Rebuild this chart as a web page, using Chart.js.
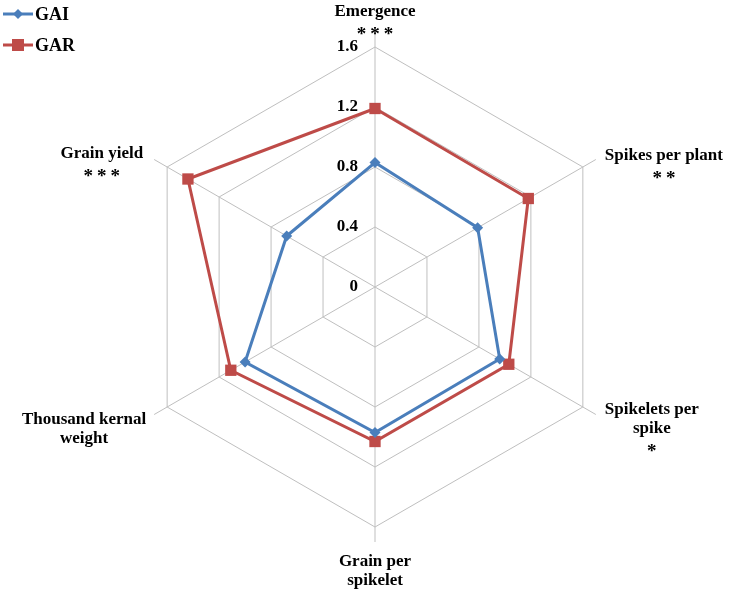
<!DOCTYPE html>
<html>
<head>
<meta charset="utf-8">
<script src="https://cdn.jsdelivr.net/npm/chart.js@4"></script>
<style>
  html, body { margin: 0; padding: 0; background: #fff; }
  #wrap { width: 729px; height: 596px; }
</style>
</head>
<body>
<div id="wrap"><canvas id="chart" width="729" height="596"></canvas></div>
<script>
// axis labels (each entry = lines of the label)
var categories = [
    ["Emergence", "***"],
    ["Spikes per plant", "**"],
    ["Spikelets per", "spike", "*"],
    ["Grain per", "spikelet"],
    ["Thousand kernal", "weight"],
    ["Grain yield", "***"]
];
var gai = [0.83, 0.79, 0.96, 0.97, 1.0, 0.68];
var gar = [1.19, 1.18, 1.03, 1.03, 1.11, 1.44];
var tickValues = [0, 0.4, 0.8, 1.2, 1.6];
var tickLabels = ["0", "0.4", "0.8", "1.2", "1.6"];

var FONT = "bold 17px 'Times New Roman', 'Liberation Serif', serif";
var STAR_FONT = "bold 19px 'Times New Roman', 'Liberation Serif', serif";
var BLUE = "#4a7ebb";
var RED = "#be4b48";

// tick labels, axis labels and legend drawn by hand
var labelsPlugin = {
    id: "labels",
    afterDraw: function(chart){
        let ctx = chart.ctx;
        let scale = chart.scales.r;
        ctx.save();
        ctx.font = FONT;
        ctx.fillStyle = "#000";

        // tick labels, left of the vertical spoke
        ctx.textAlign = "right";
        ctx.textBaseline = "middle";
        for (let i = 0; i < tickValues.length; i++) {
            let d = scale.getDistanceFromCenterForValue(tickValues[i]);
            ctx.fillText(tickLabels[i], scale.xCenter - 17, scale.yCenter - d);
        }

        // axis labels
        let r = scale.getDistanceFromCenterForValue(1.6);
        let lh = 19;
        ctx.textAlign = "center";
        for (let i = 0; i < categories.length; i++) {
            let lines = categories[i];
            let p = scale.getPointPosition(i, r);
            let w = 0;
            lines.forEach(function(t){ w = Math.max(w, ctx.measureText(t).width); });
            let cx, y0;
            if (i === 0) { cx = p.x; y0 = p.y - 35; }
            else if (i === 1) { cx = p.x + 22 + w / 2; y0 = p.y - 11; }
            else if (i === 2) { cx = p.x + 22 + w / 2; y0 = p.y + 3; }
            else if (i === 3) { cx = p.x; y0 = p.y + 35; }
            else if (i === 4) { cx = p.x - 21 - w / 2; y0 = p.y + 13; }
            else { cx = p.x - 24 - w / 2; y0 = p.y - 13; }
            for (let j = 0; j < lines.length; j++) {
                let y = y0 + j * lh;
                if (lines[j].charAt(0) === "*") {
                    ctx.font = STAR_FONT;
                    ctx.letterSpacing = "4px";
                    ctx.fillText(lines[j], cx + 2, y + 4);
                    ctx.letterSpacing = "0px";
                    ctx.font = FONT;
                } else {
                    ctx.fillText(lines[j], cx, y);
                }
            }
        }

        // legend
        ctx.textAlign = "left";
        ctx.lineWidth = 3;
        ctx.strokeStyle = BLUE;
        ctx.beginPath(); ctx.moveTo(3, 14); ctx.lineTo(33, 14); ctx.stroke();
        ctx.fillStyle = BLUE;
        ctx.beginPath();
        ctx.moveTo(18, 9); ctx.lineTo(23, 14); ctx.lineTo(18, 19); ctx.lineTo(13, 14);
        ctx.closePath(); ctx.fill();
        ctx.strokeStyle = RED;
        ctx.beginPath(); ctx.moveTo(3, 45); ctx.lineTo(33, 45); ctx.stroke();
        ctx.fillStyle = RED;
        ctx.fillRect(12, 39, 12, 12);
        ctx.fillStyle = "#000";
        ctx.font = "bold 18px 'Times New Roman', 'Liberation Serif', serif";
        ctx.fillText("GAI", 35, 15);
        ctx.fillText("GAR", 35, 46);
        ctx.restore();
    }
};

var whiteBg = {
    id: "whiteBg",
    beforeDraw: function(chart){
        let ctx = chart.ctx;
        ctx.save();
        ctx.fillStyle = "#fff";
        ctx.fillRect(0, 0, chart.width, chart.height);
        ctx.restore();
    }
};

function config_chart(){
    return {
        type: "radar",
        data: {
            labels: categories.map(function(c){ return c.join(" "); }),
            datasets: [
                {
                    label: "GAI",
                    data: gai,
                    borderColor: BLUE,
                    backgroundColor: BLUE,
                    borderWidth: 3,
                    fill: false,
                    tension: 0,
                    pointStyle: "rectRot",
                    pointRadius: 5.5,
                    pointBorderWidth: 0
                },
                {
                    label: "GAR",
                    data: gar,
                    borderColor: RED,
                    backgroundColor: RED,
                    borderWidth: 3,
                    fill: false,
                    tension: 0,
                    pointStyle: "rect",
                    pointRadius: 8,
                    pointBorderWidth: 0
                }
            ]
        },
        options: {
            responsive: false,
            animation: false,
            layout: { padding: { top: 32, bottom: 53, left: 120, right: 99 } },
            plugins: {
                legend: { display: false },
                tooltip: { enabled: false }
            },
            scales: {
                r: {
                    min: 0,
                    max: 1.7,
                    ticks: { display: false, stepSize: 0.4 },
                    pointLabels: { display: false },
                    grid: {
                        color: function(c){
                            return (c.tick && c.tick.value > 1.61) ? "rgba(0,0,0,0)" : "#bfbfbf";
                        },
                        lineWidth: 1
                    },
                    angleLines: { color: "#bfbfbf", lineWidth: 1 }
                }
            }
        },
        plugins: [whiteBg, labelsPlugin]
    };
}

var chart = new Chart(document.getElementById("chart"), config_chart());
</script>
</body>
</html>
